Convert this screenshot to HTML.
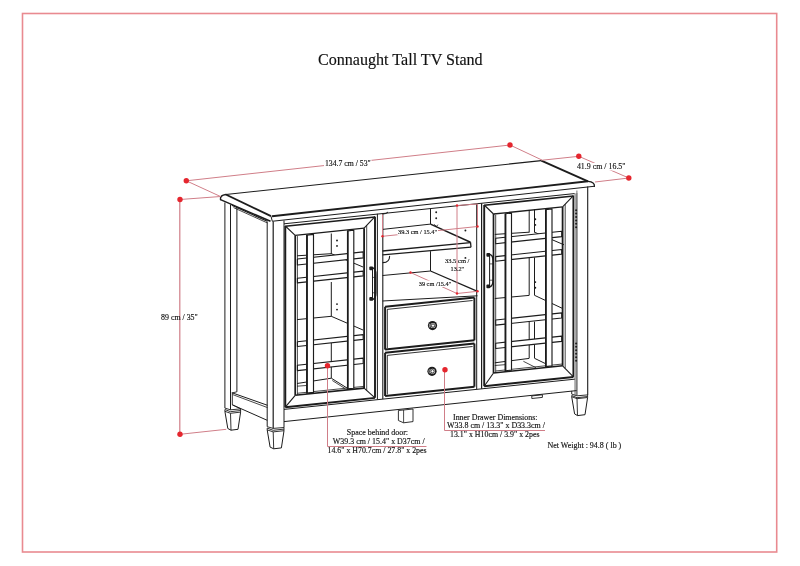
<!DOCTYPE html>
<html><head><meta charset="utf-8"><style>
html,body{margin:0;padding:0;background:#fff;width:800px;height:566px;overflow:hidden}
svg{display:block;will-change:transform}
text{font-family:"Liberation Serif",serif;fill:#111;stroke:#111;stroke-width:0.15}
</style></head><body>
<svg width="800" height="566" viewBox="0 0 800 566">
<rect x="22.5" y="13.5" width="754.2" height="538.5" fill="none" stroke="#e98a90" stroke-width="1.6"/>
<text x="318" y="64.5" font-size="16.64" textLength="164.64" lengthAdjust="spacingAndGlyphs">Connaught Tall TV Stand</text>
<line x1="225.80" y1="194.50" x2="541.30" y2="160.60" stroke="#1c1c1c" stroke-width="1.1"/>
<line x1="225.80" y1="194.50" x2="271.00" y2="216.20" stroke="#1c1c1c" stroke-width="1.9"/>
<line x1="541.30" y1="160.60" x2="588.00" y2="181.30" stroke="#1c1c1c" stroke-width="1.9"/>
<line x1="272.00" y1="216.20" x2="588.00" y2="181.30" stroke="#1c1c1c" stroke-width="1.9"/>
<path d="M225.8,194.5 Q219.8,195.2 220.5,199.6" fill="none" stroke="#1c1c1c" stroke-width="1.4" stroke-linecap="round"/>
<line x1="220.50" y1="199.60" x2="270.50" y2="221.30" stroke="#1c1c1c" stroke-width="1.5"/>
<line x1="271.00" y1="216.20" x2="272.30" y2="221.30" stroke="#1c1c1c" stroke-width="1.0"/>
<line x1="272.30" y1="221.30" x2="594.40" y2="186.30" stroke="#1c1c1c" stroke-width="1.1"/>
<path d="M588,181.3 Q595,182 594.4,186.3" fill="none" stroke="#1c1c1c" stroke-width="1.3" stroke-linecap="round"/>
<line x1="224.90" y1="202.50" x2="224.90" y2="408.10" stroke="#1c1c1c" stroke-width="1.0"/>
<line x1="230.50" y1="204.50" x2="230.50" y2="409.80" stroke="#1c1c1c" stroke-width="1.0"/>
<line x1="236.90" y1="207.50" x2="236.90" y2="391.80" stroke="#1c1c1c" stroke-width="1.0"/>
<line x1="231.80" y1="205.30" x2="267.30" y2="221.30" stroke="#1c1c1c" stroke-width="1.2"/>
<line x1="233.50" y1="207.60" x2="267.30" y2="222.90" stroke="#1c1c1c" stroke-width="0.8"/>
<line x1="267.20" y1="221.50" x2="267.20" y2="426.70" stroke="#1c1c1c" stroke-width="1.0"/>
<line x1="273.20" y1="221.50" x2="273.20" y2="428.40" stroke="#1c1c1c" stroke-width="1.2"/>
<line x1="284.00" y1="220.50" x2="284.00" y2="427.50" stroke="#1c1c1c" stroke-width="1.0"/>
<line x1="231.80" y1="392.70" x2="267.50" y2="405.30" stroke="#1c1c1c" stroke-width="1.0"/>
<line x1="232.70" y1="394.60" x2="267.50" y2="407.60" stroke="#1c1c1c" stroke-width="0.8"/>
<line x1="232.30" y1="404.80" x2="267.20" y2="420.30" stroke="#1c1c1c" stroke-width="1.0"/>
<line x1="232.30" y1="392.90" x2="232.30" y2="404.80" stroke="#1c1c1c" stroke-width="0.9"/>
<line x1="236.90" y1="391.80" x2="232.30" y2="392.90" stroke="#1c1c1c" stroke-width="0.9"/>
<line x1="240.60" y1="408.90" x2="232.30" y2="404.80" stroke="#1c1c1c" stroke-width="0.8"/>
<polyline points="224.90,408.10 230.50,409.80 240.60,408.90" fill="none" stroke="#1c1c1c" stroke-width="0.9" stroke-linejoin="round"/>
<polyline points="224.90,409.50 230.50,411.70 240.60,410.50" fill="none" stroke="#1c1c1c" stroke-width="0.9" stroke-linejoin="round"/>
<polyline points="224.90,409.50 224.90,411.30" fill="none" stroke="#1c1c1c" stroke-width="0.9" stroke-linejoin="round"/>
<polyline points="224.90,411.30 230.50,413.30 240.60,412.10" fill="none" stroke="#1c1c1c" stroke-width="0.9" stroke-linejoin="round"/>
<polyline points="240.60,408.90 240.60,412.10" fill="none" stroke="#1c1c1c" stroke-width="0.9" stroke-linejoin="round"/>
<polyline points="224.90,411.30 227.80,428.50 231.00,430.20 238.00,429.30 240.60,412.10" fill="none" stroke="#1c1c1c" stroke-width="1.0" stroke-linejoin="round"/>
<line x1="230.50" y1="413.30" x2="231.00" y2="430.20" stroke="#1c1c1c" stroke-width="0.9"/>
<polyline points="267.20,426.70 273.20,428.40 284.00,427.50" fill="none" stroke="#1c1c1c" stroke-width="0.9" stroke-linejoin="round"/>
<polyline points="267.20,428.10 273.20,430.30 284.00,429.10" fill="none" stroke="#1c1c1c" stroke-width="0.9" stroke-linejoin="round"/>
<polyline points="267.20,428.10 267.20,429.90" fill="none" stroke="#1c1c1c" stroke-width="0.9" stroke-linejoin="round"/>
<polyline points="267.20,429.90 273.20,431.90 284.00,430.70" fill="none" stroke="#1c1c1c" stroke-width="0.9" stroke-linejoin="round"/>
<polyline points="284.00,427.50 284.00,430.70" fill="none" stroke="#1c1c1c" stroke-width="0.9" stroke-linejoin="round"/>
<polyline points="267.20,429.90 270.10,447.10 273.70,448.80 281.40,447.90 284.00,430.70" fill="none" stroke="#1c1c1c" stroke-width="1.0" stroke-linejoin="round"/>
<line x1="273.20" y1="431.90" x2="273.70" y2="448.80" stroke="#1c1c1c" stroke-width="0.9"/>
<line x1="284.00" y1="223.80" x2="574.80" y2="193.56" stroke="#1c1c1c" stroke-width="1.0"/>
<line x1="285.30" y1="226.00" x2="285.30" y2="407.20" stroke="#1c1c1c" stroke-width="1.9"/>
<line x1="375.00" y1="216.67" x2="375.00" y2="397.87" stroke="#1c1c1c" stroke-width="1.9"/>
<line x1="285.30" y1="226.30" x2="375.00" y2="216.97" stroke="#1c1c1c" stroke-width="1.6"/>
<line x1="285.30" y1="407.20" x2="375.00" y2="397.87" stroke="#1c1c1c" stroke-width="2.0"/>
<line x1="285.30" y1="226.00" x2="295.20" y2="235.30" stroke="#1c1c1c" stroke-width="1.1"/>
<line x1="375.00" y1="216.67" x2="364.10" y2="228.13" stroke="#1c1c1c" stroke-width="1.1"/>
<line x1="285.30" y1="407.20" x2="295.20" y2="395.30" stroke="#1c1c1c" stroke-width="1.1"/>
<line x1="375.00" y1="397.87" x2="364.10" y2="388.13" stroke="#1c1c1c" stroke-width="1.1"/>
<line x1="295.20" y1="235.30" x2="295.20" y2="395.30" stroke="#1c1c1c" stroke-width="1.7"/>
<line x1="297.40" y1="236.07" x2="297.40" y2="395.07" stroke="#1c1c1c" stroke-width="0.8"/>
<line x1="364.10" y1="228.13" x2="364.10" y2="388.13" stroke="#1c1c1c" stroke-width="1.8"/>
<line x1="366.70" y1="225.46" x2="366.70" y2="390.46" stroke="#1c1c1c" stroke-width="0.8"/>
<line x1="295.20" y1="235.30" x2="364.10" y2="228.13" stroke="#1c1c1c" stroke-width="1.3"/>
<line x1="295.20" y1="395.30" x2="364.10" y2="388.13" stroke="#1c1c1c" stroke-width="1.6"/>
<line x1="297.40" y1="393.27" x2="364.10" y2="386.33" stroke="#1c1c1c" stroke-width="0.8"/>
<line x1="331.30" y1="233.50" x2="331.30" y2="254.00" stroke="#1c1c1c" stroke-width="1.0"/>
<line x1="331.30" y1="282.00" x2="331.30" y2="316.50" stroke="#1c1c1c" stroke-width="1.0"/>
<line x1="331.30" y1="343.00" x2="331.30" y2="378.00" stroke="#1c1c1c" stroke-width="1.0"/>
<line x1="297.00" y1="255.80" x2="331.30" y2="253.70" stroke="#1c1c1c" stroke-width="1.0"/>
<line x1="331.30" y1="253.70" x2="363.00" y2="267.00" stroke="#1c1c1c" stroke-width="1.0"/>
<line x1="297.00" y1="319.60" x2="331.30" y2="316.30" stroke="#1c1c1c" stroke-width="1.0"/>
<line x1="331.30" y1="316.30" x2="363.00" y2="330.00" stroke="#1c1c1c" stroke-width="1.0"/>
<line x1="297.00" y1="383.50" x2="331.30" y2="378.20" stroke="#1c1c1c" stroke-width="1.0"/>
<line x1="331.30" y1="378.20" x2="347.00" y2="388.00" stroke="#1c1c1c" stroke-width="1.0"/>
<line x1="297.00" y1="386.20" x2="313.00" y2="385.00" stroke="#1c1c1c" stroke-width="0.8"/>
<line x1="332.30" y1="380.50" x2="345.00" y2="388.50" stroke="#1c1c1c" stroke-width="0.8"/>
<circle cx="337" cy="240.5" r="0.95" fill="#1c1c1c"/>
<circle cx="337" cy="245.9" r="0.95" fill="#1c1c1c"/>
<circle cx="337" cy="304.1" r="0.95" fill="#1c1c1c"/>
<circle cx="337" cy="309.6" r="0.95" fill="#1c1c1c"/>
<polygon points="297.40,259.00 363.20,251.93 363.20,257.93 297.40,265.00" fill="#fff" stroke="#1c1c1c" stroke-width="1.15" stroke-linejoin="round"/>
<polygon points="297.40,278.20 363.20,271.13 363.20,275.83 297.40,282.90" fill="#fff" stroke="#1c1c1c" stroke-width="1.15" stroke-linejoin="round"/>
<polygon points="297.40,341.70 363.20,334.63 363.20,339.43 297.40,346.50" fill="#fff" stroke="#1c1c1c" stroke-width="1.15" stroke-linejoin="round"/>
<polygon points="297.40,365.20 363.20,358.13 363.20,363.53 297.40,370.60" fill="#fff" stroke="#1c1c1c" stroke-width="1.15" stroke-linejoin="round"/>
<polygon points="306.70,235.10 313.50,234.40 313.50,392.40 306.70,393.10" fill="#fff" stroke="#1c1c1c" stroke-width="1.15" stroke-linejoin="round"/>
<line x1="307.10" y1="235.10" x2="307.10" y2="393.10" stroke="#1c1c1c" stroke-width="1.6"/>
<polygon points="347.50,230.86 353.80,230.21 353.80,388.21 347.50,388.86" fill="#fff" stroke="#1c1c1c" stroke-width="1.15" stroke-linejoin="round"/>
<line x1="347.90" y1="230.86" x2="347.90" y2="388.86" stroke="#1c1c1c" stroke-width="1.6"/>
<line x1="484.20" y1="205.00" x2="484.20" y2="386.20" stroke="#1c1c1c" stroke-width="1.9"/>
<line x1="573.40" y1="195.72" x2="573.40" y2="376.92" stroke="#1c1c1c" stroke-width="1.9"/>
<line x1="484.20" y1="205.30" x2="573.40" y2="196.02" stroke="#1c1c1c" stroke-width="1.6"/>
<line x1="484.20" y1="386.20" x2="573.40" y2="376.92" stroke="#1c1c1c" stroke-width="2.0"/>
<line x1="484.20" y1="205.00" x2="493.50" y2="214.00" stroke="#1c1c1c" stroke-width="1.1"/>
<line x1="573.40" y1="195.72" x2="562.60" y2="206.81" stroke="#1c1c1c" stroke-width="1.1"/>
<line x1="484.20" y1="386.20" x2="493.50" y2="373.00" stroke="#1c1c1c" stroke-width="1.1"/>
<line x1="573.40" y1="376.92" x2="562.60" y2="365.81" stroke="#1c1c1c" stroke-width="1.1"/>
<line x1="493.50" y1="214.00" x2="493.50" y2="373.00" stroke="#1c1c1c" stroke-width="1.7"/>
<line x1="495.70" y1="214.77" x2="495.70" y2="372.77" stroke="#1c1c1c" stroke-width="0.8"/>
<line x1="562.60" y1="206.81" x2="562.60" y2="365.81" stroke="#1c1c1c" stroke-width="1.8"/>
<line x1="565.20" y1="204.14" x2="565.20" y2="368.14" stroke="#1c1c1c" stroke-width="0.8"/>
<line x1="493.50" y1="214.00" x2="562.60" y2="206.81" stroke="#1c1c1c" stroke-width="1.3"/>
<line x1="493.50" y1="373.00" x2="562.60" y2="365.81" stroke="#1c1c1c" stroke-width="1.6"/>
<line x1="495.70" y1="370.97" x2="562.60" y2="364.01" stroke="#1c1c1c" stroke-width="0.8"/>
<line x1="529.20" y1="209.96" x2="529.20" y2="232.50" stroke="#1c1c1c" stroke-width="1.0"/>
<line x1="529.20" y1="257.50" x2="529.20" y2="295.30" stroke="#1c1c1c" stroke-width="1.0"/>
<line x1="529.20" y1="321.60" x2="529.20" y2="358.20" stroke="#1c1c1c" stroke-width="1.0"/>
<line x1="534.50" y1="209.40" x2="534.50" y2="232.50" stroke="#1c1c1c" stroke-width="1.0"/>
<line x1="534.50" y1="257.50" x2="534.50" y2="295.30" stroke="#1c1c1c" stroke-width="1.0"/>
<line x1="534.50" y1="321.60" x2="534.50" y2="358.20" stroke="#1c1c1c" stroke-width="1.0"/>
<line x1="494.80" y1="234.40" x2="529.20" y2="232.20" stroke="#1c1c1c" stroke-width="1.0"/>
<line x1="534.50" y1="232.20" x2="564.00" y2="244.80" stroke="#1c1c1c" stroke-width="1.0"/>
<line x1="494.80" y1="298.50" x2="529.20" y2="295.40" stroke="#1c1c1c" stroke-width="1.0"/>
<line x1="534.50" y1="295.30" x2="562.00" y2="308.20" stroke="#1c1c1c" stroke-width="1.0"/>
<line x1="494.80" y1="362.80" x2="529.20" y2="358.40" stroke="#1c1c1c" stroke-width="1.0"/>
<line x1="534.50" y1="358.30" x2="552.00" y2="366.80" stroke="#1c1c1c" stroke-width="1.0"/>
<line x1="494.80" y1="365.50" x2="511.00" y2="364.20" stroke="#1c1c1c" stroke-width="0.8"/>
<line x1="523.40" y1="361.30" x2="536.00" y2="367.70" stroke="#1c1c1c" stroke-width="0.8"/>
<circle cx="535.3" cy="219.3" r="0.95" fill="#1c1c1c"/>
<circle cx="535.3" cy="224.9" r="0.95" fill="#1c1c1c"/>
<circle cx="535.3" cy="282.1" r="0.95" fill="#1c1c1c"/>
<circle cx="535.3" cy="287.7" r="0.95" fill="#1c1c1c"/>
<polygon points="495.70,238.30 561.70,231.21 561.70,236.61 495.70,243.70" fill="#fff" stroke="#1c1c1c" stroke-width="1.15" stroke-linejoin="round"/>
<polygon points="495.70,256.60 561.70,249.51 561.70,254.11 495.70,261.20" fill="#fff" stroke="#1c1c1c" stroke-width="1.15" stroke-linejoin="round"/>
<polygon points="495.70,320.00 561.70,312.91 561.70,318.01 495.70,325.10" fill="#fff" stroke="#1c1c1c" stroke-width="1.15" stroke-linejoin="round"/>
<polygon points="495.70,343.20 561.70,336.11 561.70,341.41 495.70,348.50" fill="#fff" stroke="#1c1c1c" stroke-width="1.15" stroke-linejoin="round"/>
<polygon points="505.20,213.78 511.50,213.13 511.50,370.13 505.20,370.78" fill="#fff" stroke="#1c1c1c" stroke-width="1.15" stroke-linejoin="round"/>
<line x1="505.60" y1="213.78" x2="505.60" y2="370.78" stroke="#1c1c1c" stroke-width="1.6"/>
<polygon points="545.60,209.58 552.00,208.92 552.00,365.92 545.60,366.58" fill="#fff" stroke="#1c1c1c" stroke-width="1.15" stroke-linejoin="round"/>
<line x1="546.00" y1="209.58" x2="546.00" y2="366.58" stroke="#1c1c1c" stroke-width="1.6"/>
<rect x="369.3" y="266.4" width="3.8" height="3.8" rx="1" fill="#1c1c1c"/>
<rect x="369.3" y="297.0" width="3.8" height="3.8" rx="1" fill="#1c1c1c"/>
<line x1="372.50" y1="269.40" x2="372.50" y2="297.80" stroke="#1c1c1c" stroke-width="1.0"/>
<path d="M372.3,267.59999999999997 Q375.90000000000003,268.4 375.90000000000003,274.4 L375.90000000000003,292.8 Q375.90000000000003,298.8 372.3,299.6" fill="none" stroke="#1c1c1c" stroke-width="1.4" stroke-linecap="round"/>
<line x1="372.50" y1="277.40" x2="375.90" y2="277.40" stroke="#1c1c1c" stroke-width="0.7"/>
<line x1="372.50" y1="292.80" x2="375.90" y2="292.80" stroke="#1c1c1c" stroke-width="0.7"/>
<rect x="486.4" y="252.9" width="3.8" height="3.8" rx="1" fill="#1c1c1c"/>
<rect x="486.4" y="284.4" width="3.8" height="3.8" rx="1" fill="#1c1c1c"/>
<line x1="489.60" y1="255.90" x2="489.60" y2="285.20" stroke="#1c1c1c" stroke-width="1.0"/>
<path d="M489.4,254.1 Q493.0,254.9 493.0,260.9 L493.0,280.2 Q493.0,286.2 489.4,287.0" fill="none" stroke="#1c1c1c" stroke-width="1.4" stroke-linecap="round"/>
<line x1="489.60" y1="263.90" x2="493.00" y2="263.90" stroke="#1c1c1c" stroke-width="0.7"/>
<line x1="489.60" y1="280.20" x2="493.00" y2="280.20" stroke="#1c1c1c" stroke-width="0.7"/>
<line x1="377.40" y1="213.80" x2="377.40" y2="399.50" stroke="#1c1c1c" stroke-width="1.0"/>
<line x1="382.80" y1="213.40" x2="382.80" y2="399.10" stroke="#1c1c1c" stroke-width="1.1"/>
<line x1="476.70" y1="203.80" x2="476.70" y2="389.20" stroke="#1c1c1c" stroke-width="1.0"/>
<line x1="481.60" y1="203.30" x2="481.60" y2="388.70" stroke="#1c1c1c" stroke-width="1.2"/>
<polygon points="574.20,193.40 577.60,193.10 577.60,395.20 574.20,395.50" fill="#a8a8a8" stroke="none" stroke-width="0.0" stroke-linejoin="round"/>
<line x1="576.90" y1="190.50" x2="576.90" y2="395.20" stroke="#555" stroke-width="0.8"/>
<line x1="587.70" y1="186.50" x2="587.70" y2="394.90" stroke="#1c1c1c" stroke-width="1.1"/>
<circle cx="576.1" cy="210.2" r="1.0" fill="#1c1c1c"/>
<circle cx="576.1" cy="213.6" r="1.0" fill="#1c1c1c"/>
<circle cx="576.1" cy="217.0" r="1.0" fill="#1c1c1c"/>
<circle cx="576.1" cy="220.39999999999998" r="1.0" fill="#1c1c1c"/>
<circle cx="576.1" cy="223.79999999999998" r="1.0" fill="#1c1c1c"/>
<circle cx="576.1" cy="227.2" r="1.0" fill="#1c1c1c"/>
<circle cx="576.1" cy="343.4" r="1.0" fill="#1c1c1c"/>
<circle cx="576.1" cy="346.85999999999996" r="1.0" fill="#1c1c1c"/>
<circle cx="576.1" cy="350.32" r="1.0" fill="#1c1c1c"/>
<circle cx="576.1" cy="353.78" r="1.0" fill="#1c1c1c"/>
<circle cx="576.1" cy="357.23999999999995" r="1.0" fill="#1c1c1c"/>
<circle cx="576.1" cy="360.7" r="1.0" fill="#1c1c1c"/>
<line x1="430.50" y1="208.50" x2="430.50" y2="224.10" stroke="#1c1c1c" stroke-width="1.0"/>
<line x1="430.50" y1="251.20" x2="430.50" y2="271.00" stroke="#1c1c1c" stroke-width="1.0"/>
<line x1="382.50" y1="229.40" x2="430.50" y2="224.10" stroke="#1c1c1c" stroke-width="1.0"/>
<line x1="430.50" y1="224.10" x2="470.50" y2="242.20" stroke="#1c1c1c" stroke-width="1.5"/>
<line x1="382.50" y1="251.00" x2="470.50" y2="242.60" stroke="#1c1c1c" stroke-width="1.3"/>
<line x1="470.50" y1="242.20" x2="471.00" y2="247.20" stroke="#1c1c1c" stroke-width="1.3"/>
<line x1="382.50" y1="254.80" x2="471.00" y2="247.20" stroke="#1c1c1c" stroke-width="1.3"/>
<line x1="382.50" y1="275.50" x2="430.50" y2="271.00" stroke="#1c1c1c" stroke-width="1.0"/>
<line x1="430.50" y1="271.00" x2="477.50" y2="291.30" stroke="#1c1c1c" stroke-width="1.3"/>
<line x1="382.50" y1="301.00" x2="477.50" y2="295.80" stroke="#1c1c1c" stroke-width="1.0"/>
<path d="M383,214 Q386.5,214 387.8,212.3" fill="none" stroke="#1c1c1c" stroke-width="1.0" stroke-linecap="round"/>
<path d="M383,262.6 Q389.6,262.4 389.6,256.2" fill="none" stroke="#1c1c1c" stroke-width="1.1" stroke-linecap="round"/>
<circle cx="436.2" cy="212.3" r="0.95" fill="#1c1c1c"/>
<circle cx="436.2" cy="218.2" r="0.95" fill="#1c1c1c"/>
<circle cx="465.4" cy="230.5" r="0.95" fill="#1c1c1c"/>
<circle cx="465.4" cy="257.9" r="0.95" fill="#1c1c1c"/>
<path d="M434.5,224.6 L436.3,226.6 L437.6,225.0" fill="none" stroke="#1c1c1c" stroke-width="0.9" stroke-linecap="round"/>
<line x1="385.10" y1="306.80" x2="474.40" y2="297.51" stroke="#1c1c1c" stroke-width="2.0"/>
<line x1="385.10" y1="349.60" x2="474.40" y2="340.31" stroke="#1c1c1c" stroke-width="2.0"/>
<line x1="385.10" y1="306.80" x2="385.10" y2="349.60" stroke="#1c1c1c" stroke-width="2.0"/>
<line x1="474.40" y1="297.51" x2="474.40" y2="340.31" stroke="#1c1c1c" stroke-width="2.0"/>
<line x1="387.10" y1="309.40" x2="472.60" y2="300.51" stroke="#1c1c1c" stroke-width="0.9"/>
<line x1="387.30" y1="309.40" x2="387.30" y2="348.10" stroke="#1c1c1c" stroke-width="0.9"/>
<circle cx="432.5" cy="325.6" r="4.6" fill="#1c1c1c"/>
<circle cx="433.0" cy="325.6" r="2.5" fill="#fff"/>
<circle cx="433.0" cy="325.6" r="1.7" fill="none" stroke="#1c1c1c" stroke-width="0.9"/>
<path d="M429.9,323.6 Q428.9,325.6 429.9,327.6" fill="none" stroke="#fff" stroke-width="0.6"/>
<line x1="385.10" y1="352.80" x2="474.40" y2="343.51" stroke="#1c1c1c" stroke-width="2.0"/>
<line x1="385.10" y1="396.00" x2="474.40" y2="386.71" stroke="#1c1c1c" stroke-width="2.0"/>
<line x1="385.10" y1="352.80" x2="385.10" y2="396.00" stroke="#1c1c1c" stroke-width="2.0"/>
<line x1="474.40" y1="343.51" x2="474.40" y2="386.71" stroke="#1c1c1c" stroke-width="2.0"/>
<line x1="387.10" y1="355.40" x2="472.60" y2="346.51" stroke="#1c1c1c" stroke-width="0.9"/>
<line x1="387.30" y1="355.40" x2="387.30" y2="394.50" stroke="#1c1c1c" stroke-width="0.9"/>
<circle cx="432.0" cy="371.3" r="4.6" fill="#1c1c1c"/>
<circle cx="432.5" cy="371.3" r="2.5" fill="#fff"/>
<circle cx="432.5" cy="371.3" r="1.7" fill="none" stroke="#1c1c1c" stroke-width="0.9"/>
<path d="M429.4,369.3 Q428.4,371.3 429.4,373.3" fill="none" stroke="#fff" stroke-width="0.6"/>
<line x1="284.00" y1="409.40" x2="574.80" y2="379.16" stroke="#1c1c1c" stroke-width="1.0"/>
<line x1="284.00" y1="421.60" x2="576.60" y2="390.60" stroke="#1c1c1c" stroke-width="1.0"/>
<line x1="571.70" y1="390.90" x2="571.70" y2="394.10" stroke="#1c1c1c" stroke-width="0.9"/>
<polyline points="571.70,394.10 577.00,395.80 587.60,394.90" fill="none" stroke="#1c1c1c" stroke-width="0.9" stroke-linejoin="round"/>
<polyline points="571.70,395.50 577.00,397.70 587.60,396.50" fill="none" stroke="#1c1c1c" stroke-width="0.9" stroke-linejoin="round"/>
<polyline points="571.70,395.50 571.70,396.70" fill="none" stroke="#1c1c1c" stroke-width="0.9" stroke-linejoin="round"/>
<polyline points="571.70,396.70 577.00,398.70 587.60,397.50" fill="none" stroke="#1c1c1c" stroke-width="0.9" stroke-linejoin="round"/>
<polyline points="587.60,394.90 587.60,397.50" fill="none" stroke="#1c1c1c" stroke-width="0.9" stroke-linejoin="round"/>
<polyline points="571.70,396.70 574.60,413.90 577.50,415.60 585.00,414.70 587.60,397.50" fill="none" stroke="#1c1c1c" stroke-width="1.0" stroke-linejoin="round"/>
<line x1="577.00" y1="398.70" x2="577.50" y2="415.60" stroke="#1c1c1c" stroke-width="0.9"/>
<polygon points="398.40,410.50 413.00,409.00 413.00,421.60 403.60,422.80 398.40,420.50" fill="#fff" stroke="#1c1c1c" stroke-width="0.9" stroke-linejoin="round"/>
<line x1="403.60" y1="410.00" x2="403.60" y2="422.80" stroke="#1c1c1c" stroke-width="0.8"/>
<polygon points="531.80,395.90 542.40,394.80 542.40,397.40 531.80,398.50" fill="none" stroke="#1c1c1c" stroke-width="0.9" stroke-linejoin="round"/>
<line x1="186.30" y1="180.80" x2="510.00" y2="145.00" stroke="#d07e88" stroke-width="1.0"/>
<line x1="186.30" y1="180.80" x2="220.50" y2="196.50" stroke="#d07e88" stroke-width="1.0"/>
<line x1="510.00" y1="145.00" x2="542.30" y2="160.20" stroke="#d07e88" stroke-width="1.0"/>
<line x1="542.30" y1="160.20" x2="578.80" y2="156.30" stroke="#d07e88" stroke-width="1.0"/>
<line x1="578.80" y1="156.30" x2="628.80" y2="178.00" stroke="#d07e88" stroke-width="1.0"/>
<line x1="628.80" y1="178.00" x2="595.00" y2="182.00" stroke="#d07e88" stroke-width="1.0"/>
<line x1="180.00" y1="199.50" x2="220.50" y2="196.50" stroke="#d07e88" stroke-width="1.0"/>
<line x1="179.80" y1="199.50" x2="179.80" y2="434.30" stroke="#d07e88" stroke-width="1.2"/>
<line x1="180.00" y1="434.30" x2="226.30" y2="429.30" stroke="#d07e88" stroke-width="1.0"/>
<line x1="327.50" y1="365.70" x2="327.50" y2="446.50" stroke="#d07e88" stroke-width="1.0"/>
<line x1="327.50" y1="446.50" x2="426.50" y2="446.50" stroke="#d07e88" stroke-width="1.0"/>
<line x1="444.50" y1="369.80" x2="444.50" y2="430.50" stroke="#d07e88" stroke-width="1.0"/>
<line x1="444.50" y1="430.50" x2="545.00" y2="430.50" stroke="#d07e88" stroke-width="1.0"/>
<line x1="382.50" y1="214.50" x2="382.50" y2="236.30" stroke="#d07e88" stroke-width="1.0"/>
<line x1="477.50" y1="204.00" x2="477.50" y2="226.50" stroke="#d07e88" stroke-width="1.0"/>
<line x1="382.50" y1="236.30" x2="477.50" y2="226.50" stroke="#d07e88" stroke-width="1.0"/>
<line x1="457.00" y1="205.50" x2="477.50" y2="204.00" stroke="#d07e88" stroke-width="1.0"/>
<line x1="457.00" y1="205.50" x2="457.00" y2="293.50" stroke="#d07e88" stroke-width="1.0"/>
<line x1="410.50" y1="272.50" x2="457.00" y2="293.50" stroke="#d07e88" stroke-width="1.0"/>
<line x1="457.00" y1="293.50" x2="477.50" y2="291.30" stroke="#d07e88" stroke-width="1.0"/>
<rect x="324" y="159.5" width="47.5" height="7.5" fill="#fff"/>
<text x="325" y="165.6" font-size="8.06" textLength="45.78" lengthAdjust="spacingAndGlyphs">134.7 cm / 53&quot;</text>
<rect x="576" y="163" width="50" height="7.5" fill="#fff"/>
<text x="576.9" y="168.8" font-size="8.22" textLength="48.65" lengthAdjust="spacingAndGlyphs">41.9 cm / 16.5&quot;</text>
<text x="161" y="320" font-size="8.22" textLength="36.80" lengthAdjust="spacingAndGlyphs">89 cm / 35&quot;</text>
<rect x="397.5" y="229.5" width="40.5" height="6" fill="#fff"/>
<text x="398" y="234.4" font-size="6.60" textLength="39.10" lengthAdjust="spacingAndGlyphs">39.3 cm / 15.4&quot;</text>
<rect x="418" y="280.5" width="33.5" height="6.5" fill="#fff"/>
<text x="418.75" y="285.6" font-size="6.55" textLength="32.49" lengthAdjust="spacingAndGlyphs">39 cm /15.4&quot;</text>
<text x="445" y="263" font-size="6.76" textLength="24.37" lengthAdjust="spacingAndGlyphs">33.5 cm /</text>
<text x="450.6" y="270.6" font-size="6.55" textLength="13.60" lengthAdjust="spacingAndGlyphs">13.2&quot;</text>
<text x="346.8" y="434.9" font-size="8.25" textLength="61.22" lengthAdjust="spacingAndGlyphs">Space behind door:</text>
<text x="332.8" y="443.6" font-size="8.26" textLength="91.89" lengthAdjust="spacingAndGlyphs">W39.3 cm / 15.4&quot; x D37cm /</text>
<text x="327.5" y="453.3" font-size="8.16" textLength="99.08" lengthAdjust="spacingAndGlyphs">14.6&quot; x H70.7cm / 27.8&quot; x 2pes</text>
<text x="453" y="419.5" font-size="8.24" textLength="84.46" lengthAdjust="spacingAndGlyphs">Inner Drawer Dimensions:</text>
<text x="447" y="427.5" font-size="8.27" textLength="97.97" lengthAdjust="spacingAndGlyphs">W33.8 cm / 13.3&quot; x D33.3cm /</text>
<text x="450" y="436.8" font-size="8.18" textLength="89.49" lengthAdjust="spacingAndGlyphs">13.1&quot; x H10cm / 3.9&quot; x 2pes</text>
<text x="547.5" y="447.5" font-size="8.27" textLength="73.77" lengthAdjust="spacingAndGlyphs">Net Weight : 94.8 ( lb )</text>
<circle cx="186.3" cy="180.8" r="2.7" fill="#e5262e"/>
<circle cx="180" cy="199.5" r="2.7" fill="#e5262e"/>
<circle cx="510" cy="145" r="2.7" fill="#e5262e"/>
<circle cx="578.8" cy="156.3" r="2.7" fill="#e5262e"/>
<circle cx="628.8" cy="178" r="2.7" fill="#e5262e"/>
<circle cx="180" cy="434.3" r="2.7" fill="#e5262e"/>
<circle cx="327.5" cy="365.7" r="2.7" fill="#e5262e"/>
<circle cx="445" cy="369.8" r="2.7" fill="#e5262e"/>
<circle cx="382.5" cy="236.3" r="1.2" fill="#e5262e"/>
<circle cx="477.5" cy="226.5" r="1.2" fill="#e5262e"/>
<circle cx="457" cy="205.5" r="1.2" fill="#e5262e"/>
<circle cx="457" cy="293.5" r="1.2" fill="#e5262e"/>
<circle cx="410.5" cy="272.5" r="1.2" fill="#e5262e"/>
<circle cx="477.5" cy="291.3" r="1.2" fill="#e5262e"/>
</svg>
</body></html>
